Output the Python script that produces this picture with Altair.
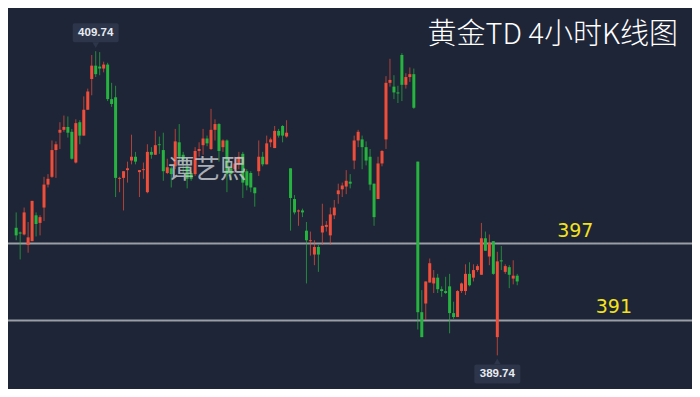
import altair as alt
import pandas as pd

# ---- candle data (4h bars) ----
opens = [398.13, 397.82, 397.69, 397.00, 397.25, 398.95, 398.45, 399.46, 400.97, 401.48,
         403.24, 404.38, 404.57, 404.76, 404.44, 402.42, 405.07, 404.19, 405.89, 407.91,
         408.79, 408.73, 408.60, 408.86, 406.59, 406.71, 401.35, 401.41, 401.92, 402.55,
         402.80, 401.79, 401.92, 400.47, 403.12, 402.93, 403.62, 403.24, 401.73, 402.04,
         402.17, 403.75, 402.93, 402.17, 401.73, 401.66, 403.18, 403.56, 404.00, 403.31,
         404.57, 404.95, 403.43, 403.87, 402.04, 401.98, 402.36, 402.99, 401.85, 401.73,
         400.78, 401.85, 402.80, 402.30, 403.75, 403.37, 404.50, 404.82, 404.13, 402.04,
         400.02, 399.20, 399.27, 397.94, 397.25, 396.37, 396.87, 397.82, 398.19, 397.63,
         398.95, 400.34, 400.66, 400.84, 401.16, 402.55, 403.87, 403.94, 403.43, 402.80,
         401.03, 400.02, 402.36, 403.94, 407.66, 407.41, 407.03, 409.49, 407.53, 408.04,
         408.23, 402.48, 392.58, 393.15, 394.53, 394.47, 394.85, 394.09, 393.97, 394.28,
         392.52, 392.26, 393.97, 393.97, 395.10, 394.85, 395.35, 395.04, 397.44, 396.24,
         397.25, 390.94, 395.99, 395.23, 395.54, 394.79, 394.98]
highs = [399.14, 397.88, 399.46, 398.51, 399.90, 399.14, 398.95, 401.48, 401.66, 403.87,
         403.81, 405.07, 405.51, 405.45, 404.63, 405.26, 405.20, 406.77, 407.28, 409.49,
         409.74, 409.68, 409.05, 408.98, 407.66, 407.47, 401.48, 401.85, 402.48, 404.25,
         403.12, 401.92, 402.42, 403.62, 403.43, 404.50, 404.13, 404.38, 402.67, 402.17,
         404.63, 404.95, 403.12, 402.67, 401.85, 403.43, 403.75, 404.63, 404.19, 405.95,
         405.26, 405.01, 403.94, 403.94, 402.30, 402.80, 403.12, 403.12, 401.98, 401.85,
         400.78, 403.87, 403.12, 404.19, 404.06, 404.82, 404.63, 404.88, 405.20, 402.04,
         400.28, 399.33, 399.39, 398.51, 397.88, 397.31, 397.00, 399.71, 398.57, 399.46,
         399.96, 401.03, 401.10, 401.92, 401.66, 404.19, 404.57, 404.19, 403.81, 403.31,
         401.03, 402.80, 403.24, 408.10, 409.24, 408.16, 407.47, 409.61, 408.29, 408.67,
         408.60, 402.48, 394.03, 394.60, 396.11, 395.35, 395.10, 394.28, 394.91, 395.10,
         393.27, 394.03, 394.53, 395.73, 395.86, 395.73, 395.73, 398.45, 397.88, 397.69,
         397.25, 396.55, 396.93, 395.73, 395.67, 395.99, 395.10]
lows = [397.31, 396.05, 397.63, 396.49, 397.25, 397.56, 397.63, 398.57, 400.78, 401.41,
        401.41, 403.31, 404.44, 404.06, 402.61, 402.36, 403.62, 404.19, 405.89, 406.84,
        408.04, 408.16, 408.35, 406.46, 406.08, 400.15, 400.47, 399.27, 401.10, 402.30,
        402.30, 400.15, 401.35, 400.40, 402.67, 402.93, 402.99, 401.22, 401.66, 400.78,
        401.98, 402.36, 401.66, 400.72, 401.22, 401.54, 402.80, 402.93, 403.49, 403.24,
        403.87, 402.48, 403.12, 400.47, 401.22, 401.73, 401.98, 400.09, 400.59, 400.47,
        399.52, 401.54, 402.17, 402.30, 403.43, 403.37, 404.06, 403.75, 404.06, 397.94,
        399.01, 398.26, 398.83, 394.47, 396.30, 395.67, 395.23, 397.00, 397.88, 397.00,
        398.70, 399.71, 400.15, 400.34, 400.72, 401.98, 403.43, 401.98, 402.23, 400.59,
        398.26, 400.02, 402.17, 403.31, 407.41, 406.59, 406.33, 406.46, 407.28, 407.72,
        405.95, 391.44, 390.94, 392.07, 394.53, 393.84, 393.84, 393.59, 393.78, 391.19,
        392.14, 392.26, 393.84, 393.71, 394.28, 394.60, 395.23, 395.04, 396.62, 395.67,
        395.04, 389.74, 395.35, 395.10, 394.16, 394.41, 394.35]
closes = [397.63, 397.75, 399.14, 397.50, 399.90, 398.38, 398.83, 400.97, 401.35, 403.24,
          403.62, 404.57, 404.76, 404.38, 402.67, 405.01, 404.19, 405.89, 407.09, 408.79,
          408.23, 408.60, 408.86, 406.59, 406.27, 401.41, 401.41, 401.85, 402.04, 402.80,
          402.48, 401.92, 401.98, 403.12, 402.93, 403.56, 403.56, 401.85, 402.11, 401.66,
          403.81, 402.80, 402.61, 401.35, 401.35, 403.18, 403.31, 404.00, 403.68, 404.57,
          404.95, 403.18, 403.87, 401.66, 401.66, 402.36, 402.80, 401.10, 400.91, 400.78,
          400.40, 402.80, 402.30, 403.68, 403.94, 404.50, 404.19, 404.19, 404.38, 400.09,
          399.14, 399.27, 399.14, 397.31, 397.31, 396.87, 396.37, 398.26, 398.32, 399.01,
          399.46, 400.59, 400.91, 401.22, 401.03, 403.87, 404.44, 403.43, 402.55, 400.97,
          398.83, 402.36, 403.18, 407.66, 407.85, 407.03, 406.96, 407.53, 408.04, 408.23,
          406.02, 392.58, 390.94, 394.60, 395.80, 394.85, 394.09, 393.97, 393.84, 392.52,
          392.26, 393.97, 394.47, 395.10, 394.35, 395.35, 395.61, 397.44, 396.62, 397.12,
          395.10, 395.92, 395.92, 395.61, 395.04, 394.98, 394.60]

# ---- annotations ----
level_values = [397.09, 392.04]
level_labels = ["397", "391"]
level_label_at = [140.6, 150.3]

callout_index = [20, 121]
callout_price = [409.74, 389.74]
callout_text = ["409.74", "389.74"]
callout_side = ["above", "below"]

title_text = "黄金TD 4小时K线图"
watermark_text = "谭艺熙"

# ---- styles ----
BG = "#1e2537"
UP = "#f04e3a"
DOWN = "#26b33f"
LINE = "#9a9ea6"
YELLOW = "#f3e21c"
BOX = "#2c3549"

W, H = 684, 381

df = pd.DataFrame({
    "i": list(range(len(opens))),
    "open": opens, "high": highs, "low": lows, "close": closes,
})
df["dir"] = ["up" if c >= o else "down" for o, c in zip(opens, closes)]

xs = alt.Scale(domain=[-0.8, 168.7], nice=False, zero=False)
ys = alt.Scale(domain=[387.53, 412.58], nice=False, zero=False)
col = alt.Color("dir:N", scale=alt.Scale(domain=["up", "down"], range=[UP, DOWN]), legend=None)

base = alt.Chart(df)
wicks = base.mark_rule(strokeWidth=1, opacity=0.7).encode(
    x=alt.X("i:Q", scale=xs, axis=None),
    y=alt.Y("low:Q", scale=ys, axis=None),
    y2="high:Q",
    color=col,
)
bodies = base.mark_bar(size=3).encode(
    x=alt.X("i:Q", scale=xs, axis=None),
    y=alt.Y("open:Q", scale=ys, axis=None),
    y2="close:Q",
    color=col,
)

lv = pd.DataFrame({"p": level_values, "label": level_labels, "at": level_label_at})
lines = alt.Chart(lv).mark_rule(color=LINE, strokeWidth=2).encode(
    y=alt.Y("p:Q", scale=ys, axis=None)
)
line_labels = alt.Chart(lv).mark_text(
    color=YELLOW, fontSize=19, baseline="bottom", dy=-3, font="DejaVu Sans"
).encode(
    x=alt.X("at:Q", scale=xs, axis=None),
    y=alt.Y("p:Q", scale=ys, axis=None),
    text="label:N",
)

co = pd.DataFrame({"i": callout_index, "p": callout_price, "t": callout_text, "side": callout_side})
callout_layers = []
for side, box_off, tri_off, shape in [("above", (-28, -9), -6, "triangle-down"),
                                      ("below", (9, 28), 6, "triangle-up")]:
    cb = alt.Chart(co).transform_filter(alt.datum.side == side)
    rect = cb.mark_rect(color=BOX, xOffset=-23, x2Offset=23,
                        yOffset=box_off[0], y2Offset=box_off[1], cornerRadius=2).encode(
        x=alt.X("i:Q", scale=xs, axis=None), x2="i:Q",
        y=alt.Y("p:Q", scale=ys, axis=None), y2="p:Q",
    )
    tri = cb.mark_point(shape=shape, filled=True, size=45, color=BOX, opacity=1,
                        yOffset=tri_off).encode(
        x=alt.X("i:Q", scale=xs, axis=None),
        y=alt.Y("p:Q", scale=ys, axis=None),
    )
    txt = cb.mark_text(color="#e8ebf1", fontSize=11.5, fontWeight="bold",
                       font="Liberation Sans", baseline="middle",
                       yOffset=(box_off[0] + box_off[1]) / 2).encode(
        x=alt.X("i:Q", scale=xs, axis=None),
        y=alt.Y("p:Q", scale=ys, axis=None),
        text="t:N",
    )
    callout_layers += [rect, tri, txt]

tdf = pd.DataFrame({"t": [title_text]})
title = alt.Chart(tdf).mark_text(
    color="#ffffff", fontSize=29, font="Noto Sans CJK SC", fontWeight=300,
    align="right", baseline="middle"
).encode(x=alt.value(670), y=alt.value(27), text="t:N")

wdf = pd.DataFrame({"t": [watermark_text]})
watermark = alt.Chart(wdf).mark_text(
    color="#c3c7ce", opacity=0.85, fontSize=26, font="Noto Sans CJK SC", align="center",
    baseline="middle", fontWeight="normal"
).encode(x=alt.value(199), y=alt.value(162), text="t:N")

chart = alt.layer(
    lines, wicks, bodies, watermark, line_labels, *callout_layers, title
).properties(
    width=W, height=H, background=BG, padding=0, autosize="none"
).configure_view(strokeWidth=0)

chart.save("out.html", embed_options={"renderer": "svg", "actions": False})
